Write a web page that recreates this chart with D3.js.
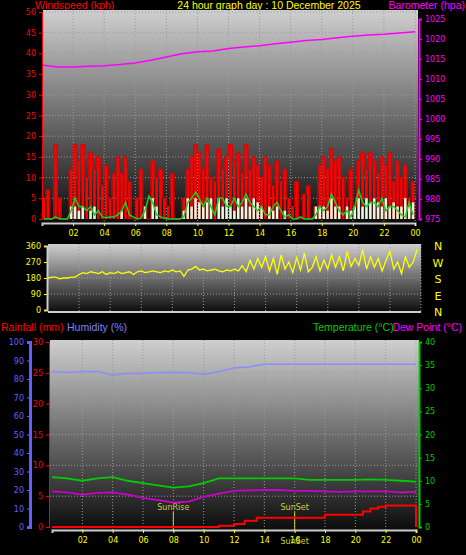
<!DOCTYPE html>
<html><head><meta charset="utf-8">
<script src="https://cdn.jsdelivr.net/npm/d3@7"></script>
<style>body{margin:0;background:#000}text{font-family:"DejaVu Sans",sans-serif}.ttl{font-family:"Liberation Sans",sans-serif;font-size:10.5px}</style>
</head><body><svg id="c" width="466" height="555"></svg>
<script>
// wind, 15 minute steps (96)
const gust = [5,7,0,18, 5,0,0,12, 18,14,18,10, 16,12,15,8, 13,5,11,15, 11,15,9,0, 5,12,3,0, 14,10,12,5,
  3,11,0,0, 5,12,15,18, 16,12,18,10, 9,17,12,15, 18,14,16,11, 18,12,15,13, 10,15,13,8, 14,9,12,5,
  3,9,0,6, 8,0,3,13, 15,12,17,14, 15,10,5,12, 3,14,16,12, 16,14,11,15, 13,16,9,14, 10,13,5,9];
const avgBars = [0,0,0,0, 0,0,0,3, 3,2,3,0, 2,3,0,0, 0,0,0,0, 2,0,0,0, 0,0,3,0, 5,3,0,0,
  0,0,0,0, 2,5,3,5, 4,3,4,5, 0,5,3,5, 3,2,5,3, 5,3,5,4, 3,0,3,2, 3,0,2,0,
  0,0,0,0, 0,0,3,3, 3,2,5,3, 3,0,3,2, 3,5,3,5, 4,5,4,3, 5,3,4,3, 3,5,3,4];
const avgLine = [0,0,0,0.5, 0,0,0,2, 5,3,3,2, 3,1,2,0.5, 0.3,0.5,0.5,1, 2,4,1,0.5, 0,0.2,2,5.5, 4,1,0.5,0.2,
  0,0,0,0, 0.5,4,5,6.5, 5,3,5,3, 1,5,5,3, 3,5,3,4, 6,4,3,2, 3,1,1,3, 4,2,0.5,1,
  0,0,0.5,0, 0,0,1,3, 2,3,6,4, 2,1,2,0.5, 3,7,4,3, 4,4,3,5, 2,3,3,2, 1,0.5,4,1];
const windDir = [180,185,185,175, 180,180,185,185, 200,210,205,215, 210,205,215,200, 210,205,215,205, 210,215,200,215,
  220,210,215,220, 215,210,220,215, 225,215,220,190, 225,230,245,225, 230,220,225,230, 220,215,225,220,
  230,220,250,215, 280,230,290,240, 300,220,290,200, 310,230,270,210, 295,225,320,215, 240,300,220,280,
  230,310,240,300, 220,330,245,290, 250,340,230,300, 240,290,220,280, 330,230,270,205, 300,240,270,340];
// hourly (25)
const pressure = [1013.5,1013,1013,1013.2,1013.3,1013.6,1014,1014.7,1015.5,1016.3,1016.8,1017,1017.6,1018,1018.3,1018.8,1019.2,1019.6,1019.9,1020.3,1020.7,1021,1021.2,1021.5,1021.8];
const humidity = [84,83.5,84,84,82,83,83,83.5,83.5,83.5,82.5,84,86,86.5,88,88,88,88,88,88,88,88,88,88,88];
const temp = [10.8,10.5,10,10.5,10.8,10,9.5,9,8.5,8.8,9.5,10.5,10.5,10.5,10.5,10.5,10.5,10.2,10.2,10.2,10.2,10.3,10.2,10,9.8];
const dew = [7.7,7.5,7,7.4,7.5,7,6.3,5.8,5.3,5.5,6.5,7.2,7.8,7.9,8,8,7.8,7.8,7.7,7.6,7.7,7.7,7.7,7.5,7.6];
const rainHours = [0,11,12,12.7,13.5,18,20.5,21,21.5,22,23.8,24];
const rainVals = [0,0.2,0.5,1,1.5,2,2.5,3,3.3,3.5,3.5,0];
const hourTicks = [2,4,6,8,10,12,14,16,18,20,22,24];
const hourLabel = h => h === 24 ? "00" : d3.format("02")(h);

const svg = d3.select("#c");
const defs = svg.append("defs");
const grad = defs.append("linearGradient").attr("id","bg").attr("x1",0).attr("x2",0).attr("y1",0).attr("y2",1);
grad.append("stop").attr("offset","0%").attr("stop-color","#cfcfcf");
grad.append("stop").attr("offset","100%").attr("stop-color","#0c0c0c");

function panel(x0, x1, y0, y1) {
  svg.append("rect").attr("x",x0).attr("y",y0).attr("width",x1-x0).attr("height",y1-y0).attr("fill","url(#bg)");
}
function grid(x, y, ticks, x0, x1, y0, y1) {
  const g = svg.append("g").attr("stroke","#9a9a9a").attr("stroke-dasharray","1,2").attr("stroke-width",1);
  hourTicks.forEach(h => g.append("line").attr("x1",x(h)).attr("x2",x(h)).attr("y1",y0).attr("y2",y1));
  ticks.forEach(t => g.append("line").attr("x1",x0).attr("x2",x1).attr("y1",y(t)).attr("y2",y(t)));
}
function leftAxis(scale, ticks, xPos, color) {
  const g = svg.append("g").attr("transform",`translate(${xPos},0)`);
  g.call(d3.axisLeft(scale).tickValues(ticks).tickSize(3).tickFormat(d3.format("d")));
  g.selectAll("text").attr("fill",color).style("font-size","8px");
  g.selectAll("line").attr("stroke",color);
  g.select(".domain").attr("stroke",color);
  return g;
}
function rightAxis(scale, ticks, xPos, color) {
  const g = svg.append("g").attr("transform",`translate(${xPos},0)`);
  g.call(d3.axisRight(scale).tickValues(ticks).tickSize(3).tickFormat(d3.format("d")));
  g.selectAll("text").attr("fill",color).style("font-size","8px");
  g.selectAll("line").attr("stroke",color);
  g.select(".domain").attr("stroke",color).attr("stroke-width",2);
}
function bottomAxis(scale, yPos) {
  const g = svg.append("g").attr("transform",`translate(0,${yPos})`);
  g.call(d3.axisBottom(scale).tickValues(hourTicks).tickSize(3).tickFormat(hourLabel));
  g.selectAll("text").attr("fill","#ffff00").style("font-size","8px").attr("dy","0.9em");
  g.selectAll("line").attr("stroke","#ffff00");
  g.select(".domain").attr("stroke","#ccc").attr("stroke-width",2);
}
const q = i => i / 4;

// ---- titles
svg.append("text").attr("class","ttl").attr("x",35).attr("y",9).attr("fill","#ff0000").text("Windspeed (kph)");
svg.append("text").attr("class","ttl").attr("x",269).attr("y",9).attr("text-anchor","middle").attr("fill","#ffff00").text("24 hour graph day : 10 December 2025");
svg.append("text").attr("class","ttl").attr("x",465).attr("y",9).attr("text-anchor","end").attr("fill","#ff00ff").text("Barometer (hpa)");

// ---- wind panel
const xW = d3.scaleLinear().domain([0,24]).range([42,415]);
const yW = d3.scaleLinear().domain([0,50]).range([219,12]);
const yP = d3.scaleLinear().domain([975,1025]).range([219,19]);
panel(43,418,10,222);
grid(xW,yW,[5,10,15,20,25,30,35,40,45,50],43,418,10,222);
svg.append("g").selectAll("line").data(gust).join("line")
  .attr("x1",(d,i)=>xW(q(i)+0.125)).attr("x2",(d,i)=>xW(q(i)+0.125))
  .attr("y1",yW(0)).attr("y2",d=>yW(d)).attr("stroke","#ff0000").attr("stroke-width",2.6);
svg.append("path").datum(gust).attr("fill","none").attr("stroke","#dd0000").attr("stroke-width",1)
  .attr("d",d3.line().x((d,i)=>xW(q(i)+0.125)).y(d=>yW(d)).curve(d3.curveStep));
svg.append("g").selectAll("line").data(avgBars).join("line")
  .attr("x1",(d,i)=>xW(q(i)+0.125)).attr("x2",(d,i)=>xW(q(i)+0.125))
  .attr("y1",yW(0)).attr("y2",d=>yW(d)).attr("stroke","#e8f8e0").attr("stroke-width",2.5);
svg.append("path").datum(avgLine).attr("fill","none").attr("stroke","#22cc22").attr("stroke-width",1.5)
  .attr("d",d3.line().x((d,i)=>xW(q(i)+0.125)).y(d=>yW(d)));
svg.append("path").datum(pressure).attr("fill","none").attr("stroke","#ff00ff").attr("stroke-width",1.5)
  .attr("d",d3.line().x((d,i)=>xW(i)).y(d=>yP(d)));
leftAxis(yW,[0,5,10,15,20,25,30,35,40,45,50],42,"#ff0000");
rightAxis(yP,[975,980,985,990,995,1000,1005,1010,1015,1020,1025],419,"#ff00ff");
bottomAxis(xW,223);

// ---- wind direction panel
const xD = d3.scaleLinear().domain([0,24]).range([48,421]);
const yD = d3.scaleLinear().domain([0,360]).range([310,246]);
panel(48,421,244,312);
grid(xD,yD,[90,180,270],48,421,244,312);
svg.append("path").datum(windDir).attr("fill","none").attr("stroke","#ffff00").attr("stroke-width",1.3)
  .attr("d",d3.line().x((d,i)=>xD(q(i))).y(d=>yD(d)));
leftAxis(yD,[0,90,180,270,360],47,"#ffff00").select(".domain").attr("stroke","#ccc").attr("stroke-width",2);
svg.append("line").attr("x1",48).attr("x2",421).attr("y1",312).attr("y2",312).attr("stroke","#ccc").attr("stroke-width",2);
["N","W","S","E","N"].forEach((t,i)=>svg.append("text").attr("x",438).attr("y",250+i*16.5)
  .attr("text-anchor","middle").attr("fill","#ffff00").style("font-size","11px").text(t));

// ---- bottom panel
svg.append("text").attr("class","ttl").attr("x",1).attr("y",331).attr("fill","#ff0000").text("Rainfall (mm)");
svg.append("text").attr("class","ttl").attr("x",67).attr("y",331).attr("fill","#8080ff").text("Humidity (%)");
svg.append("text").attr("class","ttl").attr("x",313).attr("y",331).attr("fill","#00cc00").text("Temperature (°C)");
svg.append("text").attr("class","ttl").attr("x",462).attr("y",331).attr("text-anchor","end").attr("fill","#ff00ff").text("Dew Point (°C)");
const xB = d3.scaleLinear().domain([0,24]).range([52,416]);
const yR = d3.scaleLinear().domain([0,30]).range([527,342]);
const yH = d3.scaleLinear().domain([0,100]).range([527,342]);
const yT = d3.scaleLinear().domain([0,40]).range([527,342]);
panel(50,419,340,530);
grid(xB,yR,[5,10,15,20,25],50,419,340,530);
[[8,"SunRise"],[16,"SunSet"]].forEach(([h,t])=>{
  svg.append("line").attr("x1",xB(h)).attr("x2",xB(h)).attr("y1",512).attr("y2",530).attr("stroke","#cccc44");
  svg.append("text").attr("x",xB(h)).attr("y",510).attr("text-anchor","middle").attr("fill","#cccc44").style("font-size","8px").text(t);
});
svg.append("path").datum(humidity).attr("fill","none").attr("stroke","#8c8cff").attr("stroke-width",1.5)
  .attr("d",d3.line().x((d,i)=>xB(i)).y(d=>yH(d)));
svg.append("path").datum(temp).attr("fill","none").attr("stroke","#00cc00").attr("stroke-width",1.8)
  .attr("d",d3.line().x((d,i)=>xB(i)).y(d=>yT(d)));
svg.append("path").datum(dew).attr("fill","none").attr("stroke","#cc00cc").attr("stroke-width",1.8)
  .attr("d",d3.line().x((d,i)=>xB(i)).y(d=>yT(d)));
svg.append("path").datum(rainVals).attr("fill","none").attr("stroke","#ff0000").attr("stroke-width",2)
  .attr("d",d3.line().x((d,i)=>xB(rainHours[i])).y(d=>yR(d)).curve(d3.curveStepAfter));
leftAxis(yH,[0,10,20,30,40,50,60,70,80,90,100],30,"#6060ff").select(".domain").attr("stroke-width",3);
leftAxis(yR,[0,5,10,15,20,25,30],49,"#ff0000");
rightAxis(yT,[0,5,10,15,20,25,30,35,40],419,"#00cc00");
bottomAxis(xB,530);
svg.append("text").attr("x",xB(16)).attr("y",544).attr("text-anchor","middle").attr("fill","#cccc44").style("font-size","8px").text("SunSet");
</script></body></html>
